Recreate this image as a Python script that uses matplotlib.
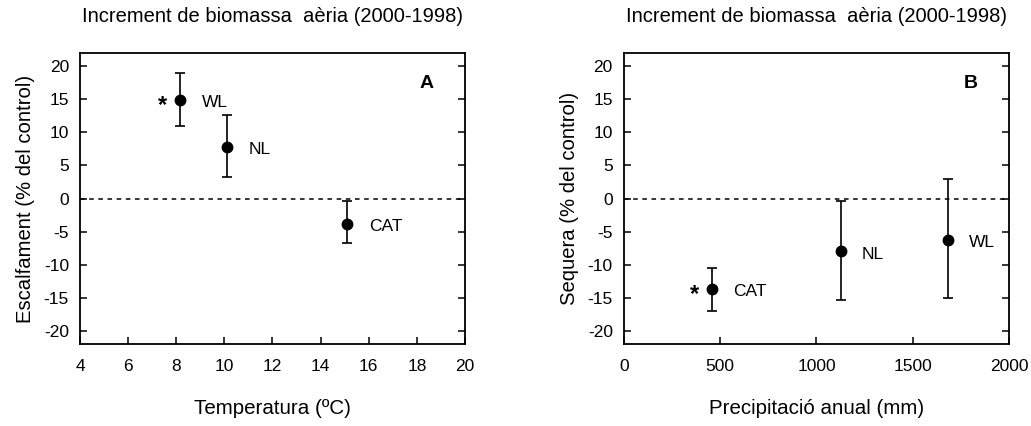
import matplotlib
matplotlib.use("Agg")
import matplotlib.pyplot as plt

plt.rcParams["font.family"] = ["Liberation Sans", "DejaVu Sans"]
plt.rcParams["axes.unicode_minus"] = False

title = "Increment de biomassa  aèria (2000-1998)"

# panel A: warming vs temperature
sites_a = ["WL", "NL", "CAT"]
temp = [8.17, 10.1, 15.1]
warm = [14.9, 7.8, -3.8]
warm_hi = [19.0, 12.6, -0.4]
warm_lo = [11.0, 3.2, -6.7]
star_a = [True, False, False]

# panel B: drought vs precipitation
sites_b = ["CAT", "NL", "WL"]
precip = [459, 1125, 1684]
drought = [-13.7, -8.0, -6.2]
drought_hi = [-10.5, -0.4, 3.0]
drought_lo = [-17.0, -15.4, -15.0]
star_b = [True, False, False]

fig = plt.figure(figsize=(10.31, 4.26), dpi=100)
ax_a = fig.add_axes([0.0776, 0.1925, 0.3734, 0.683])
ax_b = fig.add_axes([0.6052, 0.1925, 0.3734, 0.683])


def panel(ax, x, y, hi, lo, names, stars, xlim, xticks, letter, xlabel, ylabel, dx, sdx):
    err = [[v - l for v, l in zip(y, lo)], [h - v for v, h in zip(y, hi)]]
    ax.errorbar(x, y, yerr=err, fmt="o", color="black", ms=7.5, capsize=3.5,
                elinewidth=1.2, capthick=1.2)
    ax.axhline(0, color="black", ls=(0, (3, 3)), lw=1.1)
    for xi, yi, n, s in zip(x, y, names, stars):
        ax.text(xi + dx, yi - 0.4, n, fontsize=12.5, va="center", ha="left")
        if s:
            ax.text(xi - sdx, yi - 0.8, "*", fontsize=17, va="center", ha="center",
                    fontweight="bold")
    ax.set_xlim(*xlim)
    ax.set_ylim(-22, 22)
    ax.set_xticks(xticks)
    ax.set_yticks(range(-20, 21, 5))
    ax.tick_params(direction="in", length=5, width=1.1, labelsize=12.5,
                   right=True, top=False, pad=8)
    ax.tick_params(axis="x", pad=11)
    for sp in ax.spines.values():
        sp.set_linewidth(1.3)
    ax.text(0.90, 0.897, letter, transform=ax.transAxes, fontsize=14,
            fontweight="bold", ha="center", va="center")
    ax.set_xlabel(xlabel, fontsize=14.8, labelpad=18)
    ax.set_ylabel(ylabel, fontsize=14.6, labelpad=6)
    ax.set_title(title, fontsize=14.5, pad=22)


panel(ax_a, temp, warm, warm_hi, warm_lo, sites_a, star_a, (4, 20),
      range(4, 21, 2), "A", "Temperatura (ºC)", "Escalfament (% del control)", 0.9, 0.75)
panel(ax_b, precip, drought, drought_hi, drought_lo, sites_b, star_b, (0, 2000),
      range(0, 2001, 500), "B", "Precipitació anual (mm)", "Sequera (% del control)", 110, 95)

fig.savefig("out.png", dpi=100)
